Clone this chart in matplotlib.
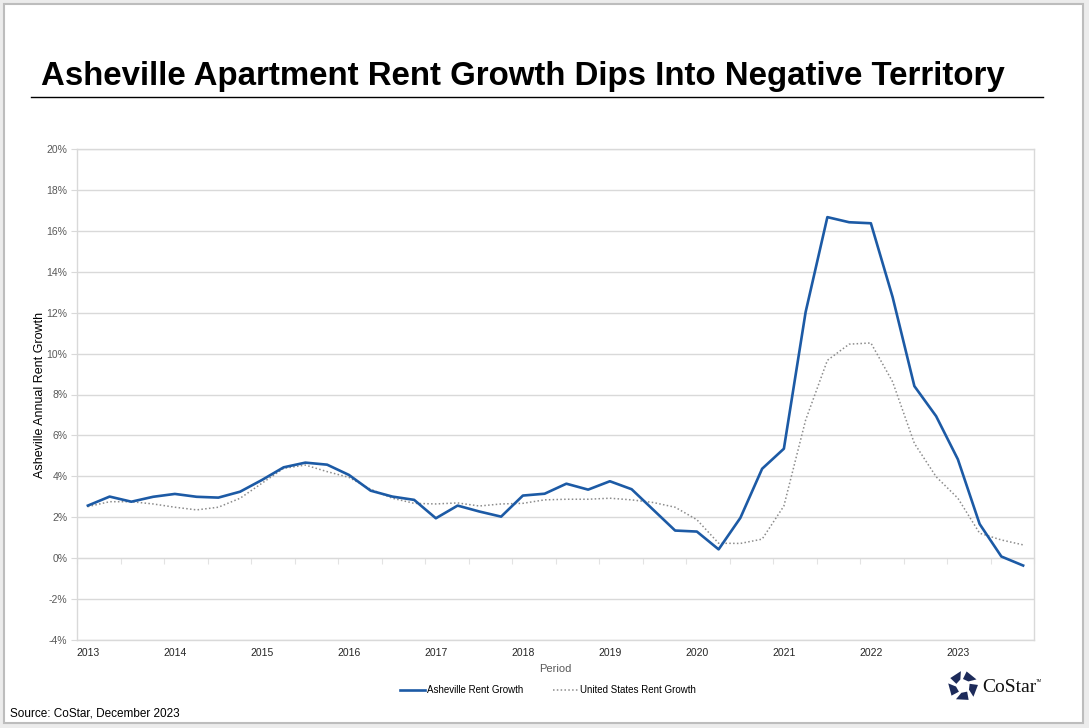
import numpy as np
import matplotlib.pyplot as plt
from matplotlib.patches import Rectangle, Polygon
from matplotlib.lines import Line2D
from matplotlib.ticker import FuncFormatter

plt.rcParams['font.family'] = ['Liberation Sans', 'DejaVu Sans']

# Quarterly data 2013 Q1 .. 2023 Q4
years = list(range(2013, 2024))
asheville = [2.57, 3.01, 2.76, 3.00, 3.14, 3.00, 2.96, 3.25,
             3.82, 4.44, 4.67, 4.57, 4.07, 3.30, 3.01, 2.85,
             1.95, 2.57, 2.28, 2.03, 3.06, 3.15, 3.64, 3.35,
             3.76, 3.37, 2.36, 1.35, 1.30, 0.43, 1.97, 4.37,
             5.35, 12.03, 16.67, 16.42, 16.37, 12.76, 8.41, 6.94,
             4.83, 1.67, 0.08, -0.36]
us = [2.52, 2.76, 2.76, 2.65, 2.49, 2.36, 2.49, 2.93,
      3.66, 4.39, 4.55, 4.23, 3.95, 3.37, 2.93, 2.68,
      2.65, 2.70, 2.55, 2.65, 2.68, 2.85, 2.88, 2.88,
      2.93, 2.85, 2.72, 2.49, 1.88, 0.73, 0.72, 0.93,
      2.55, 6.75, 9.67, 10.46, 10.52, 8.62, 5.61, 3.98,
      2.93, 1.22, 0.89, 0.65]

W, H = 1089, 728
fig = plt.figure(figsize=(W / 100, H / 100), dpi=100)
fig.patch.set_facecolor('#ececec')

def fx(px):
    return px / W

def fy(py):
    return 1 - py / H

# outer frame
fig.add_artist(Rectangle((fx(4), fy(723)), fx(1083) - fx(4), fy(4) - fy(723),
                         transform=fig.transFigure, facecolor='white',
                         edgecolor='#bdbdbd', linewidth=1.5, zorder=0))

# title and rule
fig.text(fx(41), fy(77), 'Asheville Apartment Rent Growth Dips Into Negative Territory',
         fontsize=23.8, fontweight='bold', color='black', va='center', ha='left')
fig.add_artist(Line2D([fx(31), fx(1043)], [fy(97), fy(97)], transform=fig.transFigure,
                      color='black', linewidth=1))

ax = fig.add_axes([fx(77), fy(640), fx(1034) - fx(77), fy(149) - fy(640)])
x = np.arange(len(asheville))
ax.plot(x, asheville, color='#1c5aa5', linewidth=1.9, label='Asheville Rent Growth', zorder=3)
ax.plot(x, us, color='#8c8c8c', linewidth=1.1, linestyle=(0, (1, 1.5)),
        label='United States Rent Growth', zorder=2)

ax.set_xlim(-0.5, len(x) - 0.5)
ax.set_ylim(-4, 20)
ax.set_yticks(np.arange(-4, 21, 2))
ax.yaxis.set_major_formatter(FuncFormatter(lambda v, p: f'{v:.0f}%'))
ax.grid(axis='y', color='#d9d9d9', linewidth=1)
ax.set_axisbelow(True)
for s in ax.spines.values():
    s.set_color('#d9d9d9')
    s.set_linewidth(1)
ax.tick_params(axis='y', length=4, color='#d9d9d9', labelsize=7.5, labelcolor='#595959', pad=3)

ax.set_xticks(np.arange(0, len(x), 4))
ax.set_xticklabels([str(y) for y in years])
ax.tick_params(axis='x', length=0, labelsize=7.5, labelcolor='#262626', pad=6)

# category tick marks on the zero line
sec = ax.secondary_xaxis(4 / 24)
sec.set_xticks(np.arange(-0.5, len(x), 2))
sec.set_xticklabels([])
sec.tick_params(axis='x', length=4, color='#e3e3e3', direction='out')
sec.spines['bottom'].set_color('#d9d9d9')

ax.set_ylabel('Asheville Annual Rent Growth', fontsize=9, color='black', labelpad=0)
ax.set_xlabel('Period', fontsize=8, color='#595959', labelpad=4)

fig.legend(loc='center', bbox_to_anchor=(fx(548), fy(690)), ncol=2, frameon=False,
           fontsize=7, handlelength=2.6, columnspacing=3.0, handletextpad=0.2)

fig.text(fx(10), fy(713), 'Source: CoStar, December 2023', fontsize=8.5,
         color='black', va='center', ha='left')

# CoStar logo
cx, cy, r1, r2 = 963, 686, 15, 7
for k in range(5):
    a0 = np.deg2rad(90 + 72 * k + 8)
    a1 = np.deg2rad(90 + 72 * k + 58)
    pts = [(cx + r1 * np.cos(a0), cy - r1 * np.sin(a0)),
           (cx + r1 * np.cos(a1), cy - r1 * np.sin(a1)),
           (cx + r2 * np.cos(a1 + 0.25), cy - r2 * np.sin(a1 + 0.25)),
           (cx + r2 * np.cos(a0 + 0.25), cy - r2 * np.sin(a0 + 0.25))]
    fig.add_artist(Polygon([(fx(px), fy(py)) for px, py in pts], closed=True,
                           transform=fig.transFigure, facecolor='#1d2b5a', edgecolor='none'))
fig.text(fx(982), fy(687), 'CoStar', fontsize=14, family='Liberation Serif',
         color='#111111', va='center', ha='left')
fig.text(fx(1036), fy(681), 'TM', fontsize=3, color='#111111', va='center', ha='left')

fig.savefig('out.png', dpi=100, facecolor=fig.get_facecolor())
